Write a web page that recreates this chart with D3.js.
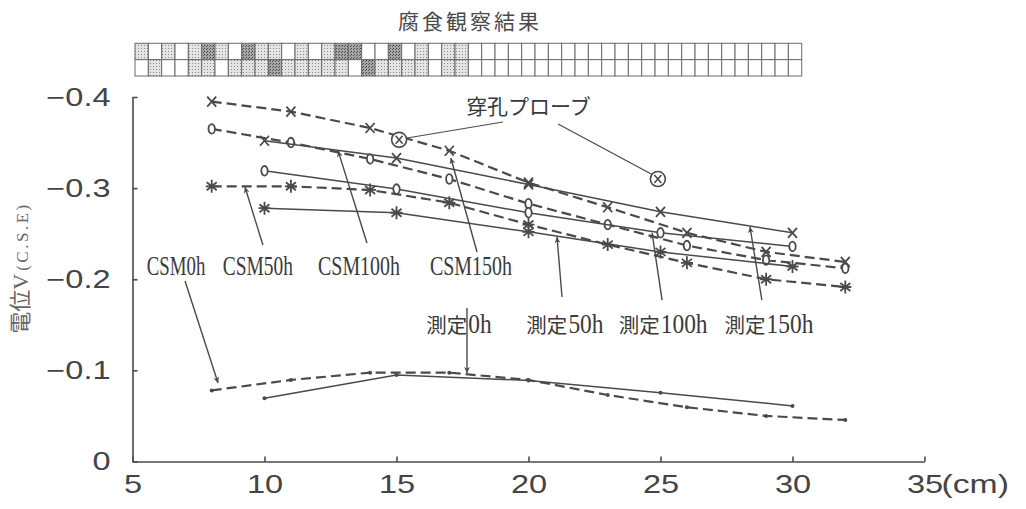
<!DOCTYPE html>
<html>
<head>
<meta charset="utf-8">
<script src="https://cdn.jsdelivr.net/npm/d3@7"></script>
<style>
body { margin: 0; background: #fff }
svg { display: block }
</style>
</head>
<body>
<svg width="1026" height="509"></svg>
<script>

/////////////////////////////////////////////////////////////////////////
// data

var csmX = [8, 11, 14, 17, 20, 23, 26, 29, 32]
var csm0h = [-0.078, -0.0895, -0.0975, -0.0975, -0.0895, -0.073, -0.0595, -0.050, -0.0456]
var csm50h = [-0.302, -0.302, -0.298, -0.284, -0.260, -0.238, -0.218, -0.200, -0.1915]
var csm100h = [-0.365, -0.350, -0.332, -0.310, -0.283, -0.260, -0.237, -0.221, -0.212]
var csm150h = [-0.395, -0.384, -0.366, -0.341, -0.306, -0.279, -0.251, -0.230, -0.219]

var measX = [10, 15, 20, 25, 30]
var meas0h = [-0.0694, -0.095, -0.089, -0.0755, -0.061]
var meas50h = [-0.278, -0.273, -0.252, -0.230, -0.214]
var meas100h = [-0.319, -0.299, -0.273, -0.251, -0.236]
var meas150h = [-0.352, -0.333, -0.304, -0.274, -0.251]

var xTicks = [5, 10, 15, 20, 25, 30, 35]
var yTicks = [0, -0.1, -0.2, -0.3, -0.4]

// corrosion observation grid: 0 none, 1 light, 2 heavy
var obsTop = [1,0,1,0,1,2,1,0,2,1,1,0,1,0,1,2,2,0,0,2,0,1,0,1,1,
	0,0,0,0,0,0,0,0,0,0,0,0,0,0,0,0,0,0,0,0,0,0,0,0,0]
var obsBottom = [0,1,0,0,1,1,0,1,1,1,2,1,1,1,1,1,0,2,1,1,1,1,0,1,1,
	0,0,0,0,0,0,0,0,0,0,0,0,0,0,0,0,0,0,0,0,0,0,0,0,0]

var csmNames = ['CSM0h', 'CSM50h', 'CSM100h', 'CSM150h']
var csmLabelX = [6.65, 9.75, 13.58, 17.82]
var csmArrowFrom = [[6.99, -0.198], [9.94, -0.2375], [13.88, -0.2398], [18.05, -0.2299]]
var csmArrowTo = [[8.24, -0.0862], [9.26, -0.3012], [12.79, -0.3407], [17.06, -0.3331]]

var measNames = ['0h', '50h', '100h', '150h']
var measLabelX = [17.37, 21.38, 25.1, 29.11]
var measArrowFrom = [[17.67, -0.1685], [21.27, -0.1805], [25.06, -0.1772], [28.84, -0.1772]]
var measArrowTo = [[17.67, -0.0971], [21.08, -0.2464], [24.68, -0.2508], [28.39, -0.2574]]

var probes = [[15.1, -0.353], [24.9, -0.310]]
var probeLeaders = [[[15.4, -0.355], [19.03, -0.3726]], [[21.12, -0.3704], [24.72, -0.3144]]]

/////////////////////////////////////////////////////////////////////////
// setup

var ink = '#4a4a4a'
var svg = d3.select('svg')

var x = d3.scaleLinear().domain([5, 35]).range([132.5, 924.5])
var y = d3.scaleLinear().domain([0, -0.4]).range([461.5, 97])

function stretch(sel, k) {
	sel.each(function() {
		var l = this.getComputedTextLength()
		d3.select(this).attr('textLength', l * k).attr('lengthAdjust', 'spacingAndGlyphs')
	})
}

var defs = svg.append('defs')

var pl = defs.append('pattern').attr('id', 'light').attr('patternUnits', 'userSpaceOnUse')
	.attr('width', 3).attr('height', 3)
pl.append('rect').attr('width', 3).attr('height', 3).attr('fill', '#e4e4e4')
pl.append('rect').attr('width', 1).attr('height', 1).attr('fill', '#8a8a8a')

var pd = defs.append('pattern').attr('id', 'dark').attr('patternUnits', 'userSpaceOnUse')
	.attr('width', 3).attr('height', 3)
pd.append('rect').attr('width', 3).attr('height', 3).attr('fill', '#a8a8a8')
pd.append('rect').attr('width', 1).attr('height', 1).attr('fill', '#404040')
pd.append('rect').attr('x', 2).attr('y', 1).attr('width', 1).attr('height', 1).attr('fill', '#555')

defs.append('marker').attr('id', 'head').attr('viewBox', '0 0 10 10')
	.attr('refX', 10).attr('refY', 5).attr('markerUnits', 'userSpaceOnUse')
	.attr('markerWidth', 9).attr('markerHeight', 6).attr('orient', 'auto')
	.append('path').attr('d', 'M0,0L10,5L0,10L3,5Z').attr('fill', ink)

/////////////////////////////////////////////////////////////////////////
// observation grid

svg.append('text').attr('x', 470).attr('y', 29)
	.attr('text-anchor', 'middle')
	.style('font-family', 'Noto Sans CJK JP').style('font-size', '21px')
	.style('letter-spacing', '3px').attr('fill', ink)
	.text('腐食観察結果')

var col = d3.scaleBand().domain(d3.range(obsTop.length)).range([135, 801.7])
var row = d3.scaleBand().domain([0, 1]).range([43.3, 76])
var fills = ['#fff', 'url(#light)', 'url(#dark)']

;[obsTop, obsBottom].forEach(function(r, ri) {
	svg.append('g').selectAll('rect').data(r).enter().append('rect')
		.attr('x', function(d, i) { return col(i) })
		.attr('y', row(ri))
		.attr('width', col.bandwidth())
		.attr('height', row.bandwidth())
		.attr('fill', function(d) { return fills[d] })
		.attr('stroke', '#6a6a6a').attr('stroke-width', 1)
})

/////////////////////////////////////////////////////////////////////////
// axes

var gx = svg.append('g').attr('transform', 'translate(0,' + y(0) + ')')
	.call(d3.axisBottom(x).tickValues(xTicks).tickSizeInner(-5).tickSizeOuter(0).tickPadding(14))
var gy = svg.append('g').attr('transform', 'translate(' + x(5) + ',0)')
	.call(d3.axisLeft(y).tickValues(yTicks).tickSizeInner(-5).tickSizeOuter(0).tickPadding(22)
		.tickFormat(function(d) { return d === 0 ? '0' : d3.format('.1f')(d) }))

;[gx, gy].forEach(function(g) {
	g.select('.domain').attr('stroke', ink).attr('stroke-width', 1.6)
	g.selectAll('.tick line').attr('stroke', ink).attr('stroke-width', 1.6)
	g.selectAll('.tick text').attr('fill', '#444')
		.style('font-family', 'Liberation Sans').style('font-size', '25px')
})
stretch(gx.selectAll('.tick text'), 1.3)
stretch(gy.selectAll('.tick text'), 1.3)

svg.append('text').attr('x', x(35) + 17).attr('y', y(0) + 14).attr('dy', '0.71em')
	.attr('fill', '#444').style('font-family', 'Liberation Sans').style('font-size', '25px')
	.text('(cm)')
	.call(stretch, 1.35)

var yt = svg.append('text').attr('transform', 'translate(22,268) rotate(-90)')
	.attr('text-anchor', 'middle').attr('dy', '0.35em').attr('fill', '#666')
yt.append('tspan').style('font-family', 'Noto Sans CJK JP').style('font-size', '22px').text('電位')
yt.append('tspan').style('font-family', 'Liberation Serif').style('font-size', '22px').text('V')
yt.append('tspan').style('font-family', 'Liberation Serif').style('font-size', '17px')
	.attr('dx', 3).style('letter-spacing', '2.5px').text('(C.S.E)')

/////////////////////////////////////////////////////////////////////////
// series

var series = [
	{xs: csmX, ys: csm0h, mark: 'dot', dash: true},
	{xs: csmX, ys: csm50h, mark: 'star', dash: true},
	{xs: csmX, ys: csm100h, mark: 'o', dash: true},
	{xs: csmX, ys: csm150h, mark: 'x', dash: true},
	{xs: measX, ys: meas0h, mark: 'dot', dash: false},
	{xs: measX, ys: meas50h, mark: 'star', dash: false},
	{xs: measX, ys: meas100h, mark: 'o', dash: false},
	{xs: measX, ys: meas150h, mark: 'x', dash: false}
]

var line = d3.line().x(function(d) { return x(d[0]) }).y(function(d) { return y(d[1]) })

series.forEach(function(s) {
	var pts = d3.zip(s.xs, s.ys)
	svg.append('path').datum(pts).attr('d', line)
		.attr('fill', 'none').attr('stroke', ink)
		.attr('stroke-width', s.dash ? 2.2 : 1.5)
		.attr('stroke-dasharray', s.dash ? '10,5' : null)

	var m = svg.append('g').selectAll('g').data(pts).enter().append('g')
		.attr('transform', function(d) { return 'translate(' + x(d[0]) + ',' + y(d[1]) + ')' })
		.attr('stroke', ink).attr('stroke-width', 1.8).attr('fill', 'none')
	if (s.mark === 'dot') {
		m.append('circle').attr('r', 2).attr('fill', ink).attr('stroke', 'none')
	} else if (s.mark === 'o') {
		m.append('ellipse').attr('rx', 3.2).attr('ry', 4.8).attr('fill', '#fff')
	} else if (s.mark === 'x') {
		m.append('path').attr('d', 'M-4.5,-5L4.5,5M4.5,-5L-4.5,5')
	} else {
		m.append('path').attr('d', 'M0,-6.5V6.5M-6,0H6M-5,-4L5,4M5,-4L-5,4')
	}
})

/////////////////////////////////////////////////////////////////////////
// annotations

function arrow(from, to) {
	svg.append('line')
		.attr('x1', x(from[0])).attr('y1', y(from[1]))
		.attr('x2', x(to[0])).attr('y2', y(to[1]))
		.attr('stroke', ink).attr('stroke-width', 1.4)
		.attr('marker-end', 'url(#head)')
}

function mono(g, str, px, py) {
	return g.append('text').attr('x', px).attr('y', py)
		.attr('fill', '#3a3a3a')
		.style('font-family', 'Liberation Serif').style('font-size', '27px')
		.attr('textLength', str.length * 11.7).attr('lengthAdjust', 'spacingAndGlyphs')
		.text(str)
}

var ann = svg.append('g')

csmNames.forEach(function(n, i) {
	var w = n.length * 11.7
	mono(ann, n, x(csmLabelX[i]) - w / 2, y(-0.2047))
	arrow(csmArrowFrom[i], csmArrowTo[i])
})

measNames.forEach(function(n, i) {
	var w = 42 + n.length * 11.7
	var x0 = x(measLabelX[i]) - w / 2
	ann.append('text').attr('x', x0).attr('y', y(-0.141))
		.attr('fill', '#3a3a3a')
		.style('font-family', 'Noto Sans CJK JP').style('font-size', '20px')
		.attr('textLength', 41).attr('lengthAdjust', 'spacingAndGlyphs')
		.text('測定')
	mono(ann, n, x0 + 42, y(-0.141))
	arrow(measArrowFrom[i], measArrowTo[i])
})

ann.append('text').attr('x', x(20.0)).attr('y', y(-0.3813))
	.attr('text-anchor', 'middle').attr('fill', '#3a3a3a')
	.style('font-family', 'Noto Sans CJK JP').style('font-size', '21px')
	.text('穿孔プローブ')

probeLeaders.forEach(function(l) {
	ann.append('line')
		.attr('x1', x(l[0][0])).attr('y1', y(l[0][1]))
		.attr('x2', x(l[1][0])).attr('y2', y(l[1][1]))
		.attr('stroke', ink).attr('stroke-width', 1.2)
})

var pg = ann.selectAll('.probe').data(probes).enter().append('g')
	.attr('transform', function(d) { return 'translate(' + x(d[0]) + ',' + y(d[1]) + ')' })
	.attr('stroke', ink).attr('fill', '#fff')
pg.append('circle').attr('r', 7.5).attr('stroke-width', 1.6)
pg.append('path').attr('d', 'M-3.5,-4L3.5,4M3.5,-4L-3.5,4').attr('stroke-width', 1.6)

</script>
</body>
</html>
